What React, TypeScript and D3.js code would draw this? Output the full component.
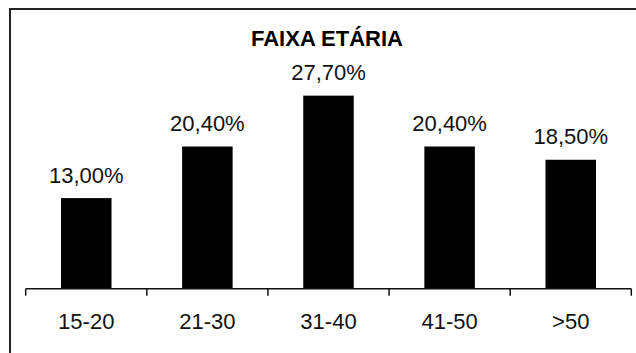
import React, { useEffect, useRef } from "react";
import * as d3 from "d3";

const title = "FAIXA ETÁRIA";
const categories = ["15-20", "21-30", "31-40", "41-50", ">50"];
const values = [13.0, 20.4, 27.7, 20.4, 18.5];
const valueLabels = ["13,00%", "20,40%", "27,70%", "20,40%", "18,50%"];

const App = () => {
  const svgRef = useRef<SVGSVGElement | null>(null);

  useEffect(() => {
    if (!svgRef.current) return;
    const svg = d3.select(svgRef.current);
    svg.selectAll("*").remove();

    const width = 636;
    const height = 353;
    const font = "'Liberation Sans', Arial, sans-serif";

    // Frame (only top and left edges are visible in the crop)
    svg
      .append("path")
      .attr("d", `M10,${height} L10,9 L${width},9`)
      .attr("fill", "none")
      .attr("stroke", "#222")
      .attr("stroke-width", 2);

    // Scales
    const axisLeft = 25.7;
    const axisRight = 631.3;
    const axisY = 288.7;

    const band = d3
      .scaleBand<string>()
      .domain(categories)
      .range([axisLeft, axisRight])
      .paddingInner(0.583)
      .paddingOuter(0.2915);

    const y = d3.scaleLinear().domain([0, 30]).range([axisY, axisY - 30 * 6.97]);

    // Bars
    svg
      .append("g")
      .selectAll("rect")
      .data(values)
      .join("rect")
      .attr("x", (_, i) => band(categories[i])!)
      .attr("y", (d) => y(d))
      .attr("width", band.bandwidth())
      .attr("height", (d) => axisY - y(d))
      .attr("fill", "#000");

    // Value labels
    svg
      .append("g")
      .selectAll("text")
      .data(values)
      .join("text")
      .attr("x", (_, i) => band(categories[i])! + band.bandwidth() / 2)
      .attr("y", (d) => y(d) - 15.5)
      .attr("text-anchor", "middle")
      .attr("font-family", font)
      .attr("font-size", 22)
      .attr("fill", "#111")
      .text((_, i) => valueLabels[i]);

    // Category axis
    const step = band.step();
    const g = svg.append("g");
    g.append("line")
      .attr("x1", axisLeft)
      .attr("x2", axisRight)
      .attr("y1", axisY)
      .attr("y2", axisY)
      .attr("stroke", "#111")
      .attr("stroke-width", 1.5);

    d3.range(categories.length + 1).forEach((i) => {
      const tx = axisLeft + i * step;
      g.append("line")
        .attr("x1", tx)
        .attr("x2", tx)
        .attr("y1", axisY)
        .attr("y2", axisY + 7)
        .attr("stroke", "#111")
        .attr("stroke-width", 1.5);
    });

    g.selectAll("text.cat")
      .data(categories)
      .join("text")
      .attr("class", "cat")
      .attr("x", (d) => band(d)! + band.bandwidth() / 2)
      .attr("y", 329)
      .attr("text-anchor", "middle")
      .attr("font-family", font)
      .attr("font-size", 22)
      .attr("fill", "#111")
      .text((d) => d);

    // Title
    svg
      .append("text")
      .attr("x", 327)
      .attr("y", 46)
      .attr("text-anchor", "middle")
      .attr("font-family", font)
      .attr("font-weight", "bold")
      .attr("font-size", 22)
      .attr("fill", "#000")
      .text(title);
  }, []);

  return (
    <svg
      ref={svgRef}
      width={636}
      height={353}
      style={{ position: "fixed", left: 0, top: 0, background: "#fff", display: "block" }}
    />
  );
};

export default App;
